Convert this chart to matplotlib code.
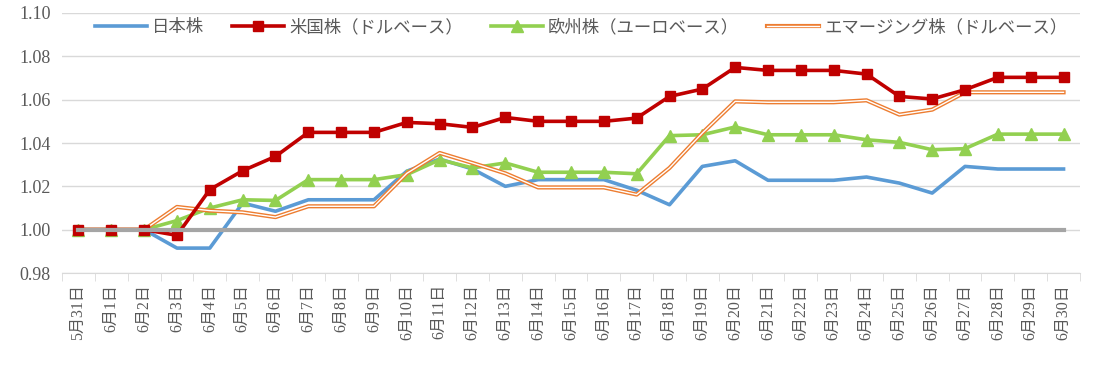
import matplotlib
matplotlib.use("Agg")
import matplotlib.pyplot as plt
from matplotlib.legend_handler import HandlerTuple
from matplotlib.ticker import FixedLocator, MultipleLocator

plt.rcParams['font.family'] = ['Liberation Serif', 'Noto Sans CJK JP']

# category labels
dates = ["5月31日"] + [f"6月{d}日" for d in range(1, 31)]

# series values
japan = [1.0, 1.0, 1.0, 0.9915, 0.9915, 1.0123, 1.0085, 1.0138, 1.0138, 1.0138,
         1.0270, 1.0326, 1.0280, 1.0200, 1.0231, 1.0231, 1.0231, 1.0182, 1.0115, 1.0292,
         1.0318, 1.0228, 1.0228, 1.0228, 1.0243, 1.0215, 1.0169, 1.0292, 1.0280, 1.0280,
         1.0280]
us = [1.0, 1.0, 1.0, 0.9974, 1.0185, 1.0272, 1.0338, 1.0449, 1.0449, 1.0449,
      1.0495, 1.0489, 1.0472, 1.0518, 1.0500, 1.0500, 1.0500, 1.0515, 1.0615, 1.0649,
      1.0749, 1.0735, 1.0735, 1.0735, 1.0718, 1.0615, 1.0603, 1.0646, 1.0703, 1.0703,
      1.0703]
europe = [1.0, 1.0, 1.0, 1.0042, 1.0100, 1.0138, 1.0135, 1.0231, 1.0231, 1.0231,
          1.0254, 1.0323, 1.0285, 1.0308, 1.0265, 1.0265, 1.0265, 1.0258, 1.0434, 1.0438,
          1.0474, 1.0438, 1.0438, 1.0438, 1.0415, 1.0403, 1.0369, 1.0374, 1.0441, 1.0441,
          1.0441]
emerging = [1.0, 1.0, 1.0, 1.0105, 1.0088, 1.0080, 1.0058, 1.0108, 1.0108, 1.0108,
            1.0260, 1.0354, 1.0308, 1.0260, 1.0195, 1.0195, 1.0195, 1.0162, 1.0285, 1.0446,
            1.0592, 1.0588, 1.0588, 1.0588, 1.0597, 1.0531, 1.0554, 1.0634, 1.0634, 1.0634,
            1.0634]
base = [1.0] * 31

labels = ["日本株", "米国株（ドルベース）", "欧州株（ユーロベース）", "エマージング株（ドルベース）"]

x = list(range(len(dates)))
text_color = "#595959"
grid_color = "#d9d9d9"

fig = plt.figure(figsize=(11.02, 3.65), dpi=100)
ax = fig.add_axes([0.0563, 0.252, 0.9237, 0.7124])

h_jp, = ax.plot(x, japan, color="#5b9bd5", lw=2.6, solid_joinstyle="round", zorder=3)
h_us, = ax.plot(x, us, color="#c00000", lw=2.6, marker="s", markersize=7.5, zorder=4)
h_eu, = ax.plot(x, europe, color="#92d050", lw=2.6, marker="^", markersize=8, zorder=3)
h_em_o, = ax.plot(x, emerging, color="#ed7d31", lw=3.0, zorder=3)
h_em_w, = ax.plot(x, emerging, color="white", lw=1.0, zorder=3)
ax.plot(x, base, color="#a5a5a5", lw=3.0, zorder=5)

ax.set_xlim(-0.5, len(dates) - 0.5)
ax.set_ylim(0.98, 1.10)
ax.yaxis.set_major_locator(MultipleLocator(0.02))
ax.set_yticklabels([f"{v:.2f}" for v in ax.get_yticks()])
ax.grid(axis="y", color=grid_color, lw=1.0)
ax.set_axisbelow(True)

ax.set_xticks(x)
ax.set_xticklabels(dates, rotation=90, fontsize=11.5, color=text_color)
ax.xaxis.set_minor_locator(FixedLocator([i - 0.5 for i in range(len(dates) + 1)]))
ax.tick_params(axis="x", which="major", length=0, pad=8)
ax.tick_params(axis="x", which="minor", length=6, color=grid_color)
ax.tick_params(axis="y", length=0, labelsize=13, labelcolor=text_color, pad=8)

for side in ["left", "right", "top"]:
    ax.spines[side].set_visible(False)
ax.spines["bottom"].set_color(grid_color)

leg = ax.legend([h_jp, h_us, h_eu, (h_em_o, h_em_w)], labels,
                handler_map={tuple: HandlerTuple(ndivide=1)},
                loc="upper center", bbox_to_anchor=(0.51, 1.04), ncol=4,
                frameon=False, handlelength=3.0,
                columnspacing=1.6, handletextpad=0.3,
                prop={'family': ['Noto Sans CJK JP'], 'size': 12.5})
for t in leg.get_texts():
    t.set_color(text_color)

fig.savefig("out.png", dpi=100)
